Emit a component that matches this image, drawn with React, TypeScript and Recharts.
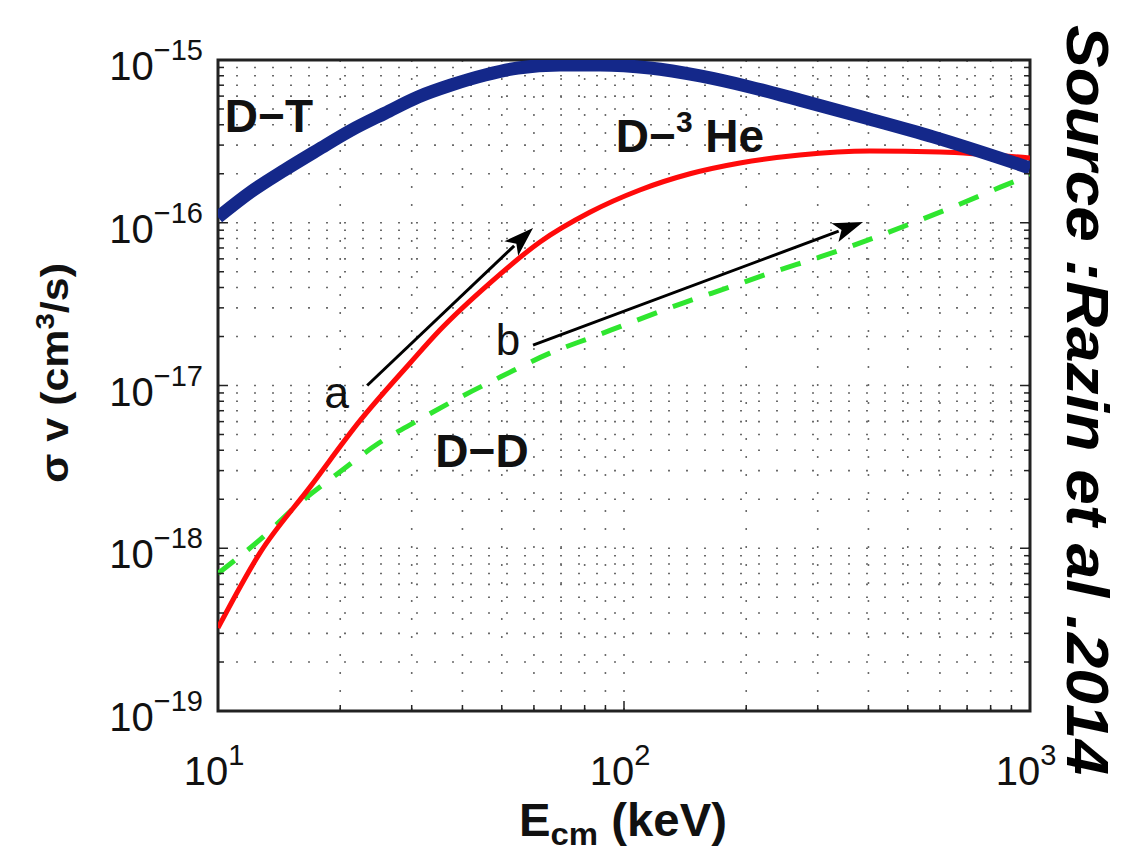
import React from 'react'
import {
  LineChart,
  Line,
  XAxis,
  YAxis,
  CartesianGrid,
  ReferenceLine,
  ReferenceDot,
  ReferenceArea,
} from 'recharts'

const FONT = '"Liberation Sans", Arial, Helvetica, sans-serif'

// Reactivity <sigma v> (cm^3/s) versus centre-of-mass energy (keV)
const dtEnergy = [10, 12.06, 14.6, 17.6, 21.3, 25.8, 31.1, 37.5, 45.5, 54.8, 69.5, 87.3, 115.8, 154, 204, 271, 394, 577, 1000]
const dtRate = [1.08e-16, 1.55e-16, 2.11e-16, 2.8e-16, 3.71e-16, 4.72e-16, 5.93e-16, 7.02e-16, 8.09e-16, 8.93e-16, 9.31e-16, 9.31e-16, 8.93e-16, 7.98e-16, 6.83e-16, 5.67e-16, 4.4e-16, 3.37e-16, 2.17e-16]

const dheEnergy = [10, 12.7, 16.9, 22.4, 29.7, 35.2, 46.8, 62.1, 82.4, 109.4, 145.4, 193, 271, 403, 600, 1000]
const dheRate = [3.24e-19, 9.4e-19, 2.4e-18, 6.1e-18, 1.37e-17, 2.19e-17, 4.27e-17, 7.62e-17, 1.16e-16, 1.59e-16, 2.0e-16, 2.33e-16, 2.61e-16, 2.76e-16, 2.72e-16, 2.5e-16]

const ddEnergy = [10, 12.9, 15.9, 19.8, 24.8, 31.1, 39.6, 49.7, 65.7, 83.9, 107.6, 139.7, 182.4, 232.7, 304, 397, 515, 661, 848, 1000]
const ddRate = [7.0e-19, 1.17e-18, 1.9e-18, 2.9e-18, 4.4e-18, 6.1e-18, 8.5e-18, 1.13e-17, 1.58e-17, 1.99e-17, 2.52e-17, 3.21e-17, 4.03e-17, 4.98e-17, 6.16e-17, 7.8e-17, 1.0e-16, 1.28e-16, 1.66e-16, 1.96e-16]

const xTicks = [10, 20, 30, 40, 50, 60, 70, 80, 90, 100, 200, 300, 400, 500, 600, 700, 800, 900, 1000]
const yTicks = [
  1e-19, 2e-19, 3e-19, 4e-19, 5e-19, 6e-19, 7e-19, 8e-19, 9e-19,
  1e-18, 2e-18, 3e-18, 4e-18, 5e-18, 6e-18, 7e-18, 8e-18, 9e-18,
  1e-17, 2e-17, 3e-17, 4e-17, 5e-17, 6e-17, 7e-17, 8e-17, 9e-17,
  1e-16, 2e-16, 3e-16, 4e-16, 5e-16, 6e-16, 7e-16, 8e-16, 9e-16,
  1e-15,
]

// annotation arrows "a" and "b" (start, end) in data units
const arrowA = [{ x: 23.3, y: 1.0e-17 }, { x: 59.7, y: 9.3e-17 }]
const arrowB = [{ x: 59.7, y: 1.77e-17 }, { x: 388, y: 1.01e-16 }]

const toRows = (xs: number[], ys: number[]) => xs.map((e, i) => ({ e, v: ys[i] }))
const dtData = toRows(dtEnergy, dtRate)
const dheData = toRows(dheEnergy, dheRate)
const ddData = toRows(ddEnergy, ddRate)

const exponent = (v: number) => Math.round(Math.log10(v))
const isDecade = (v: number) => Math.abs(Math.log10(v) - exponent(v)) < 1e-6

function Pow({ x, y, v, anchor }: any) {
  const e = exponent(v)
  return (
    <text x={x} y={y} textAnchor={anchor} fontFamily={FONT} fontSize={40} fill="#111">
      10
      <tspan dy={-20} fontSize={29}>{e < 0 ? `\u2212${-e}` : e}</tspan>
    </text>
  )
}

function BottomTick({ x, y, payload }: any) {
  const major = isDecade(payload.value)
  return (
    <g>
      <line x1={x} x2={x} y1={711} y2={711 - (major ? 10 : 6)} stroke="#222" strokeWidth={1.5} />
      {major && <Pow x={x - 4} y={y + 74} v={payload.value} anchor="middle" />}
    </g>
  )
}

function TopTick({ x, y, payload }: any) {
  const major = isDecade(payload.value)
  return <line x1={x} x2={x} y1={y} y2={y + (major ? 10 : 6)} stroke="#222" strokeWidth={1.5} />
}

function LeftTick({ x, y, payload }: any) {
  const major = isDecade(payload.value)
  return (
    <g>
      <line x1={x} x2={x + (major ? 10 : 6)} y1={y} y2={y} stroke="#222" strokeWidth={1.5} />
      {major && <Pow x={x - 15} y={y + 20} v={payload.value} anchor="end" />}
    </g>
  )
}

function RightTick({ x, y, payload }: any) {
  const major = isDecade(payload.value)
  return <line x1={x} x2={x - (major ? 10 : 6)} y1={y} y2={y} stroke="#222" strokeWidth={1.5} />
}

function Arrow({ x1, y1, x2, y2 }: any) {
  const len = Math.hypot(x2 - x1, y2 - y1)
  const ux = (x2 - x1) / len
  const uy = (y2 - y1) / len
  const hl = 30
  const hw = 10
  const bx = x2 - ux * hl
  const by = y2 - uy * hl
  return (
    <g>
      <line x1={x1} y1={y1} x2={bx + ux * 4} y2={by + uy * 4} stroke="#000" strokeWidth={3} />
      <polygon
        points={`${x2},${y2} ${bx - uy * hw},${by + ux * hw} ${bx + ux * 7},${by + uy * 7} ${bx + uy * hw},${by - ux * hw}`}
        fill="#000"
      />
    </g>
  )
}

const note = (txt: React.ReactNode, size: number, weight: string) => (p: any) => (
  <text x={p.cx} y={p.cy} textAnchor="middle" fontFamily={FONT} fontSize={size} fontWeight={weight} fill="#111">
    {txt}
  </text>
)

export default function App() {
  return (
    <div style={{ position: 'absolute', left: 0, top: 0, width: 1131, height: 855, background: '#fff' }}>
      <LineChart width={1131} height={855} margin={{ top: 59, right: 100, bottom: 143, left: 217 }}>
        <CartesianGrid stroke="#6a6a6a" strokeWidth={1.6} strokeDasharray="2 16" />
        <XAxis
          dataKey="e"
          type="number"
          scale="log"
          domain={[10, 1000]}
          ticks={xTicks}
          interval={0}
          allowDataOverflow
          height={1}
          tickSize={0}
          tickMargin={0}
          axisLine={false}
          tickLine={false}
          tick={(p: any) => <BottomTick {...p} />}
        />
        <XAxis
          xAxisId="t"
          orientation="top"
          type="number"
          scale="log"
          domain={[10, 1000]}
          ticks={xTicks}
          interval={0}
          allowDataOverflow
          height={1}
          tickSize={0}
          tickMargin={0}
          axisLine={false}
          tickLine={false}
          tick={(p: any) => <TopTick {...p} />}
        />
        <YAxis
          type="number"
          scale="log"
          domain={[1e-19, 1e-15]}
          ticks={yTicks}
          interval={0}
          allowDataOverflow
          width={1}
          tickSize={0}
          tickMargin={0}
          axisLine={false}
          tickLine={false}
          tick={(p: any) => <LeftTick {...p} />}
        />
        <YAxis
          yAxisId="r"
          orientation="right"
          type="number"
          scale="log"
          domain={[1e-19, 1e-15]}
          ticks={yTicks}
          interval={0}
          allowDataOverflow
          width={1}
          tickSize={0}
          tickMargin={0}
          axisLine={false}
          tickLine={false}
          tick={(p: any) => <RightTick {...p} />}
        />
        <Line data={ddData} dataKey="v" type="monotone" stroke="#2fe62f" strokeWidth={5} strokeDasharray="21 17" dot={false} isAnimationActive={false} />
        <Line data={dheData} dataKey="v" type="monotone" stroke="#ff0a0a" strokeWidth={5} dot={false} isAnimationActive={false} />
        <Line data={dtData} dataKey="v" type="monotone" stroke="#14288a" strokeWidth={13} dot={false} isAnimationActive={false} />
        <ReferenceLine segment={arrowA} ifOverflow="visible" shape={(p: any) => <Arrow {...p} />} />
        <ReferenceLine segment={arrowB} ifOverflow="visible" shape={(p: any) => <Arrow {...p} />} />
        <ReferenceDot x={13.35} y={3.61e-16} r={0} shape={note('D\u2212T', 46, 'bold')} />
        <ReferenceDot
          x={145.4}
          y={2.72e-16}
          r={0}
          shape={note(
            <>
              {'D\u2212'}
              <tspan dy={-20} fontSize={30}>3</tspan>
              <tspan dy={20}>{' He'}</tspan>
            </>,
            46,
            'bold'
          )}
        />
        <ReferenceDot x={44.7} y={3.15e-18} r={0} shape={note('D\u2212D', 46, 'bold')} />
        <ReferenceDot x={19.6} y={7.28e-18} r={0} shape={note('a', 44, 'normal')} />
        <ReferenceDot x={51.8} y={1.54e-17} r={0} shape={note('b', 44, 'normal')} />
        <ReferenceArea x1={10} x2={1000} y1={1e-19} y2={1e-15} fill="none" stroke="#222" strokeWidth={3} ifOverflow="visible" />
      </LineChart>
      <svg width={1131} height={855} style={{ position: 'absolute', left: 0, top: 0, pointerEvents: 'none' }}>
        <text
          x={68}
          y={373}
          transform="rotate(-90 68 373)"
          textAnchor="middle"
          fontFamily={FONT}
          fontSize={38}
          fontWeight="bold"
          fill="#111"
          textLength={220}
          lengthAdjust="spacingAndGlyphs"
        >
          {'\u03c3 v (cm'}
          <tspan dy={-14} fontSize={26}>3</tspan>
          <tspan dy={14}>/s)</tspan>
        </text>
        <text x={623} y={836} textAnchor="middle" fontFamily={FONT} fontSize={46} fontWeight="bold" fill="#111" textLength={208} lengthAdjust="spacingAndGlyphs">
          E
          <tspan dy={9} fontSize={32}>cm</tspan>
          <tspan dy={-9}>{' (keV)'}</tspan>
        </text>
        <text
          x={1067}
          y={400}
          transform="rotate(90 1067 400)"
          textAnchor="middle"
          fontFamily={FONT}
          fontSize={60}
          fontWeight="bold"
          fontStyle="italic"
          fill="#000"
          textLength={750}
          lengthAdjust="spacingAndGlyphs"
        >
          Source :Razin et al .2014
        </text>
      </svg>
    </div>
  )
}
